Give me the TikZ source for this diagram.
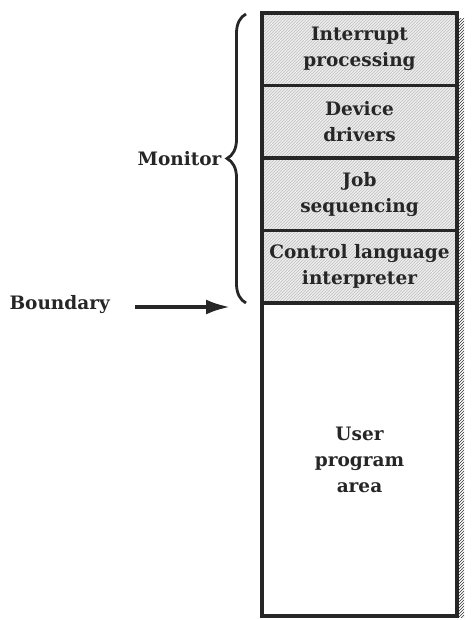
\documentclass[tikz,border=0pt]{standalone}
\usepackage{fontspec}
\setmainfont{DejaVu Serif}
\usetikzlibrary{arrows.meta, positioning, patterns, decorations.pathreplacing}

\begin{document}
\begin{tikzpicture}[x=1pt, y=1pt,
    node distance=0pt,
    box/.style={rectangle, draw=black!85, line width=3.2pt, outer sep=0pt,
        minimum width=195pt, minimum height=72.5pt, align=center,
        font=\fontsize{18.5}{26}\selectfont\bfseries, text=black!85},
    monbox/.style={box, preaction={fill=gray!14},
        preaction={pattern=north east lines, pattern color=gray!50}},
    userbox/.style={box, fill=white, minimum height=313pt},
    label/.style={font=\fontsize{18.5}{26}\selectfont\bfseries, text=black!85},
    arrow/.style={-{Latex[length=24pt, width=15pt]}, line width=3.6pt, black!85}]

    \useasboundingbox (0,0) rectangle (471,-620);

    % shaded edge on the right
    \fill[pattern=north east lines, pattern color=black!80]
        (456,-19) rectangle (464,-617);

    % memory column
    \node[monbox, anchor=north west] (intr) at (262,-13) {Interrupt\\processing};
    \node[monbox, below=of intr] (drv) {Device\\drivers};
    \node[monbox, below=of drv] (jobs) {Job\\sequencing};
    \node[monbox, below=of jobs] (cli) {Control language\\interpreter};
    \node[userbox, below=of cli] (user) {User\\program\\area};

    % brace for the monitor part
    \coordinate (btop) at (246,-14);
    \coordinate (bbot) at (246,-303);
    \draw[black!85, line width=2.8pt, decorate, decoration={brace, amplitude=19pt}]
        (bbot) -- (btop) coordinate[pos=0.5] (bmid);
    \node[label, anchor=east] (mon) at ([xshift=-21pt]bmid) {Monitor};

    % boundary arrow
    \node[label, anchor=west] (bnd) at (6,-305) {Boundary};
    \coordinate (bndtip) at (230,-307);
    \draw[arrow] ([xshift=22pt]bnd.east |- bndtip) -- (bndtip);
\end{tikzpicture}
\end{document}
